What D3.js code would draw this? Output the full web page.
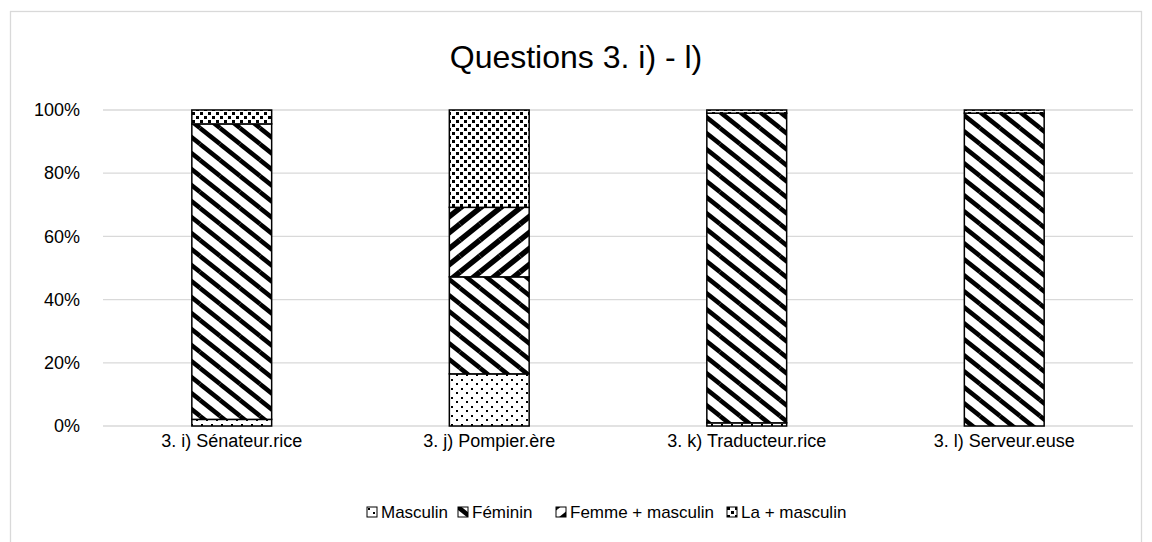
<!DOCTYPE html>
<html lang="fr">
<head>
  <meta charset="utf-8">
  <title>Questions 3. i) - l)</title>
  <script src="https://d3js.org/d3.v7.min.js"></script>
</head>
<body style="margin: 0; background-color: white;">
  <svg id="chart" width="1152" height="542"></svg>
<script>
  // data (percent)
  var categories = ["3. i) Sénateur.rice", "3. j) Pompier.ère", "3. k) Traducteur.rice", "3. l) Serveur.euse"];
  var seriesNames = ["Masculin", "Féminin", "Femme + masculin", "La + masculin"];
  var masculin = [2.1, 16.5, 1.0, 0];
  var feminin = [93.5, 30.7, 98.0, 99.0];
  var femmeMasculin = [0, 22.0, 0, 0];
  var laMasculin = [4.4, 30.8, 1.0, 1.0];
  var yTicks = [0, 20, 40, 60, 80, 100];

  var svg = d3.select("#chart"),
      font = "'Liberation Sans', Arial, sans-serif",
      plotLeft = 103, plotRight = 1133, plotTop = 110, plotBottom = 426;

  // chart frame
  svg.append("rect")
     .attr("x", 10.5).attr("y", 11.5)
     .attr("width", 1131).attr("height", 560)
     .attr("fill", "white")
     .attr("stroke", "#d9d9d9")
     .attr("stroke-width", 1.3);

  // hatch patterns, one per series
  var defs = svg.append("defs");

  var p0 = defs.append("pattern").attr("id", "pat0")
     .attr("patternUnits", "userSpaceOnUse").attr("width", 10).attr("height", 9)
     .attr("shape-rendering", "crispEdges");
  p0.append("rect").attr("width", 10).attr("height", 9).attr("fill", "white");
  p0.append("rect").attr("x", 1).attr("y", 1).attr("width", 2).attr("height", 2).attr("fill", "black");
  p0.append("rect").attr("x", 6).attr("y", 5).attr("width", 2).attr("height", 2).attr("fill", "black");

  var p1 = defs.append("pattern").attr("id", "pat1")
     .attr("patternUnits", "userSpaceOnUse").attr("width", 20).attr("height", 16);
  p1.append("rect").attr("width", 20).attr("height", 16).attr("fill", "white");
  [[-20, -16], [0, 0], [20, 16], [0, -16], [-20, 0], [20, 0], [0, 16]].forEach(function(o) {
    p1.append("line")
      .attr("x1", o[0]).attr("y1", o[1]).attr("x2", o[0] + 20).attr("y2", o[1] + 16)
      .attr("stroke", "black").attr("stroke-width", 4.5);
  });

  var p2 = defs.append("pattern").attr("id", "pat2")
     .attr("patternUnits", "userSpaceOnUse").attr("width", 20).attr("height", 16);
  p2.append("rect").attr("width", 20).attr("height", 16).attr("fill", "white");
  [[-20, 0], [0, 0], [20, 0], [0, -16], [0, 16], [-20, 16], [20, -16]].forEach(function(o) {
    p2.append("line")
      .attr("x1", o[0]).attr("y1", o[1] + 16).attr("x2", o[0] + 20).attr("y2", o[1])
      .attr("stroke", "black").attr("stroke-width", 5.5);
  });

  var p3 = defs.append("pattern").attr("id", "pat3")
     .attr("patternUnits", "userSpaceOnUse").attr("width", 8).attr("height", 8)
     .attr("shape-rendering", "crispEdges");
  p3.append("rect").attr("width", 8).attr("height", 8).attr("fill", "white");
  p3.append("rect").attr("x", 0).attr("y", 0).attr("width", 3).attr("height", 3).attr("fill", "black");
  p3.append("rect").attr("x", 4).attr("y", 4).attr("width", 3).attr("height", 3).attr("fill", "black");

  var fills = ["url(#pat0)", "url(#pat1)", "url(#pat2)", "url(#pat3)"];

  // title
  svg.append("text")
     .attr("x", 576).attr("y", 68)
     .attr("text-anchor", "middle")
     .attr("font-family", font).attr("font-size", "32px")
     .attr("fill", "#000")
     .text("Questions 3. i) - l)");

  var xScale = d3.scaleBand().domain(categories).range([plotLeft, plotRight]).paddingInner(0.69).paddingOuter(0.345),
      yScale = d3.scaleLinear().domain([0, 100]).range([plotBottom, plotTop]);

  // gridlines
  svg.append("g")
     .selectAll("line")
     .data(yTicks)
     .enter().append("line")
     .attr("x1", plotLeft).attr("x2", plotRight)
     .attr("y1", function(d) { return yScale(d); })
     .attr("y2", function(d) { return yScale(d); })
     .attr("stroke", "#d9d9d9")
     .attr("stroke-width", 1.3);

  var yAxis = svg.append("g")
     .attr("transform", "translate(" + 80 + ",0)")
     .call(d3.axisLeft(yScale).tickValues(yTicks).tickSize(0).tickPadding(0)
       .tickFormat(function(d) { return d + "%"; }));
  yAxis.select(".domain").remove();
  yAxis.selectAll("text")
     .attr("font-family", font).attr("font-size", "18px").attr("fill", "#000");

  // x labels
  var xAxis = svg.append("g")
     .attr("transform", "translate(0," + plotBottom + ")")
     .call(d3.axisBottom(xScale).tickSize(0).tickPadding(8));
  xAxis.select(".domain").remove();
  xAxis.selectAll("text")
     .attr("font-family", font).attr("font-size", "18px").attr("fill", "#000");

  // stacked bars
  var rows = categories.map(function(c, i) {
    return { cat: c, s0: masculin[i], s1: feminin[i], s2: femmeMasculin[i], s3: laMasculin[i] };
  });
  var stack = d3.stack().keys(["s0", "s1", "s2", "s3"])(rows);

  var layers = svg.append("g")
     .selectAll("g")
     .data(stack)
     .enter().append("g")
     .attr("fill", function(d, i) { return fills[i]; });

  layers.selectAll("rect")
     .data(function(d) { return d.filter(function(v) { return v[1] - v[0] > 0; }); })
     .enter().append("rect")
     .attr("x", function(d) { return xScale(d.data.cat); })
     .attr("width", xScale.bandwidth())
     .attr("y", function(d) { return yScale(d[1]); })
     .attr("height", function(d) { return yScale(d[0]) - yScale(d[1]); })
     .attr("stroke", "black")
     .attr("stroke-width", 1.5);

  // legend
  var legendX = [367, 458, 556, 727];
  var legend = svg.append("g")
     .selectAll("g")
     .data(seriesNames)
     .enter().append("g")
     .attr("transform", function(d, i) { return "translate(" + legendX[i] + "," + 507 + ")"; });

  legend.append("rect")
     .attr("width", 10).attr("height", 10)
     .attr("fill", function(d, i) { return fills[i]; })
     .attr("stroke", "black").attr("stroke-width", 1);

  legend.append("text")
     .attr("x", 14).attr("y", 5)
     .attr("dy", "0.35em")
     .attr("font-family", font).attr("font-size", "17px").attr("fill", "#000")
     .text(function(d) { return d; });
</script>
</body>
</html>
